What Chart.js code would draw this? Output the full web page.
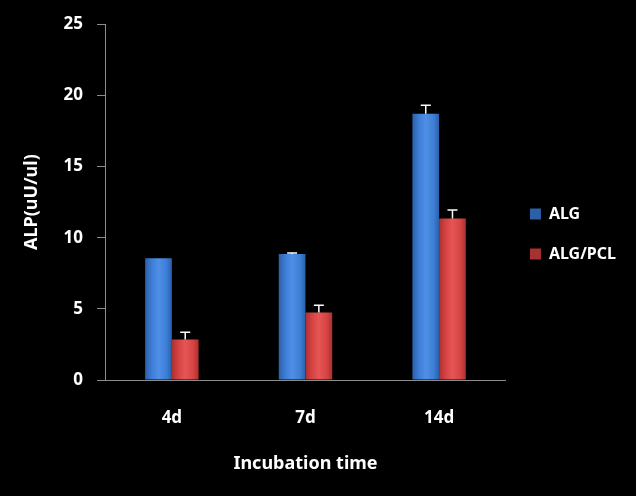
<!DOCTYPE html>
<html>
<head>
<meta charset="utf-8">
<script src="https://cdn.jsdelivr.net/npm/chart.js@4.4.1/dist/chart.umd.min.js"></script>
<style>
  html, body { margin: 0; padding: 0; background: #000; }
  #wrap { width: 636px; height: 496px; position: relative; }
</style>
</head>
<body>
<div id="wrap"><canvas id="chartALP"></canvas></div>
<script>
// categorias y valores
const tiempos = ['4d', '7d', '14d'];
const valoresALG = [8.55, 8.85, 18.7];
const valoresALGPCL = [2.85, 4.75, 11.35];
const errorALG = [0, 0.08, 0.6];
const errorALGPCL = [0.5, 0.5, 0.6];
const ticksY = [0, 5, 10, 15, 20, 25];

const colores = {
    ALG: { base: '#3d7ed6', claro: '#4f8fe6', oscuro: '#2c5fa8' },
    PCL: { base: '#d74343', claro: '#e65555', oscuro: '#a93131' }
};

// degradado horizontal por barra, calculado con la escala x
function relleno(tono, lado) {
    return function(context) {
        const chart = context.chart;
        const xs = chart.scales.x;
        if (context.dataIndex === undefined || !xs || !xs.width) return tono.base;
        const centro = xs.getPixelForValue(context.dataIndex);
        const anchoCat = xs.width / tiempos.length;
        const w = anchoCat * 0.4 / 2;
        const x0 = lado < 0 ? centro - w : centro;
        const g = chart.ctx.createLinearGradient(x0, 0, x0 + w, 0);
        g.addColorStop(0, tono.oscuro);
        g.addColorStop(0.25, tono.base);
        g.addColorStop(0.5, tono.claro);
        g.addColorStop(0.8, tono.base);
        g.addColorStop(1, tono.oscuro);
        return g;
    };
}

// barras de error en blanco
const barrasError = {
    id: 'barrasError',
    afterDatasetsDraw(chart) {
        const ctx = chart.ctx;
        const y = chart.scales.y;
        chart.data.datasets.forEach((ds, i) => {
            const meta = chart.getDatasetMeta(i);
            meta.data.forEach((bar, j) => {
                if (!ds.errores[j]) return;
                const top = y.getPixelForValue(ds.data[j] + ds.errores[j]);
                ctx.save();
                ctx.strokeStyle = '#ffffff';
                ctx.lineWidth = 1.5;
                ctx.beginPath();
                ctx.moveTo(bar.x, bar.y);
                ctx.lineTo(bar.x, top);
                ctx.moveTo(bar.x - 5, top);
                ctx.lineTo(bar.x + 5, top);
                ctx.stroke();
                ctx.restore();
            });
        });
    }
};

const fuente = "'Noto Sans', 'DejaVu Sans', sans-serif";

new Chart(document.getElementById('chartALP'), {
    type: 'bar',
    data: {
        labels: tiempos,
        datasets: [
            {
                label: 'ALG',
                data: valoresALG,
                errores: errorALG,
                backgroundColor: relleno(colores.ALG, -1),
                categoryPercentage: 0.4,
                barPercentage: 1.0
            },
            {
                label: 'ALG/PCL',
                data: valoresALGPCL,
                errores: errorALGPCL,
                backgroundColor: relleno(colores.PCL, 1),
                categoryPercentage: 0.4,
                barPercentage: 1.0
            }
        ]
    },
    options: {
        responsive: true,
        maintainAspectRatio: false,
        animation: false,
        layout: { padding: { top: 22, right: 10, bottom: 21, left: 21 } },
        scales: {
            y: {
                min: 0,
                max: 25,
                afterBuildTicks: (s) => { s.ticks = ticksY.map(v => ({ value: v })); },
                grid: { drawOnChartArea: false, drawTicks: true, tickLength: 8, color: '#8c8c8c' },
                border: { color: '#8c8c8c' },
                ticks: { color: '#ffffff', padding: 14, font: { family: fuente, size: 17, weight: 'bold' } },
                title: {
                    display: true,
                    text: 'ALP(uU/ul)',
                    color: '#ffffff',
                    padding: { top: 0, bottom: 7 },
                    font: { family: fuente, size: 18, weight: 'bold' }
                }
            },
            x: {
                grid: { display: false },
                border: { color: '#8c8c8c' },
                ticks: { color: '#ffffff', padding: 20, font: { family: fuente, size: 17, weight: 'bold' } },
                title: {
                    display: true,
                    text: 'Incubation time',
                    color: '#ffffff',
                    padding: { top: 5, bottom: 0 },
                    font: { family: fuente, size: 18, weight: 'bold' }
                }
            }
        },
        plugins: {
            legend: {
                position: 'right',
                align: 'start',
                // titulo vacio usado solo como espacio superior
                title: { display: true, text: ' ', padding: { top: 148, bottom: 0 }, font: { size: 10 } },
                labels: {
                    color: '#ffffff',
                    boxWidth: 11,
                    boxHeight: 11,
                    padding: 24,
                    font: { family: fuente, size: 16, weight: 'bold' }
                }
            },
            tooltip: { enabled: false }
        }
    },
    plugins: [barrasError]
});
</script>
</body>
</html>
